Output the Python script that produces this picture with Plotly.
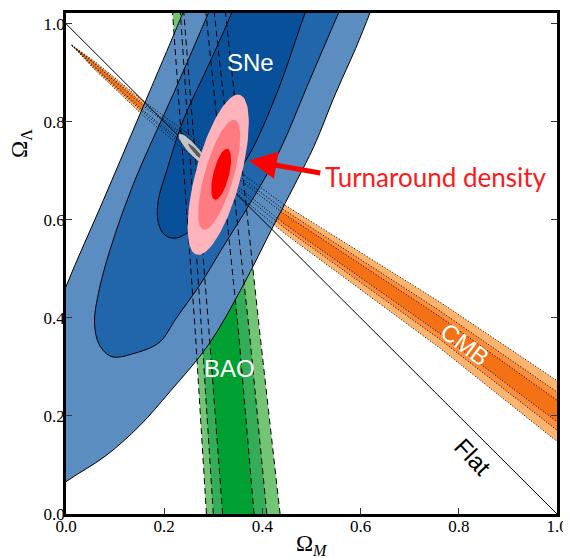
import numpy as np
import plotly.graph_objects as go

# ---------------- data ----------------
# SNe contours: boundary points (Omega_M, Omega_Lambda), outer (3 sigma) -> inner (1 sigma)
sne3_x = [-0.10, 0.0, 0.08, 0.15, 0.212, 0.29, 0.36, 0.42, 0.47, 0.505, 0.55, 0.59, 0.619, 0.645,
          0.45, 0.262, 0.238, 0.212, 0.144, 0.076, 0.0, -0.05, -0.10]
sne3_y = [-0.01, 0.066, 0.118, 0.18, 0.25, 0.345, 0.465, 0.583, 0.68, 0.75, 0.86, 0.95, 1.022, 1.09,
          1.13, 1.08, 1.022, 0.96, 0.80, 0.64, 0.464, 0.33, 0.10]

sne2_x = [0.093, 0.14, 0.19, 0.225, 0.273, 0.32, 0.375, 0.436, 0.49, 0.555, 0.58,
          0.40, 0.31, 0.29, 0.22, 0.14, 0.09, 0.066, 0.058, 0.068, 0.093]
sne2_y = [0.321, 0.328, 0.35, 0.40, 0.468, 0.545, 0.634, 0.743, 0.87, 1.022, 1.08,
          1.13, 1.07, 1.022, 0.86, 0.68, 0.54, 0.45, 0.39, 0.345, 0.321]

sne1_x = [0.208, 0.225, 0.245, 0.266, 0.31, 0.371, 0.43, 0.487, 0.51,
          0.42, 0.35, 0.337, 0.29, 0.239, 0.205, 0.188, 0.187, 0.196, 0.208]
sne1_y = [0.565, 0.563, 0.572, 0.59, 0.645, 0.729, 0.86, 1.022, 1.08,
          1.12, 1.06, 1.022, 0.915, 0.804, 0.70, 0.64, 0.60, 0.575, 0.565]

# BAO band edges (Omega_M) at given Omega_Lambda levels
bao_y = [0.0, 0.376, 1.022]
bao3_left = [0.286, 0.263, 0.217]
bao2_left = [0.300, 0.276, 0.233]
bao1_left = [0.319, 0.291, 0.240]
bao1_right = [0.383, 0.351, 0.285]
bao2_right = [0.409, 0.373, 0.302]
bao3_right = [0.436, 0.394, 0.325]

# CMB band: centre line and half widths
cmb_x = [0.012, 0.056, 0.157, 0.443, 0.762, 1.0]
cmb_center = [0.956, 0.917, 0.828, 0.603, 0.385, 0.21]
cmb_hw3 = [0.0, 0.008, 0.015, 0.029, 0.047, 0.062]
cmb_hw2 = [0.0, 0.005, 0.009, 0.018, 0.029, 0.039]
cmb_hw1 = [0.0, 0.003, 0.005, 0.010, 0.017, 0.022]

# Turnaround density ellipses (outer -> inner)
turn_cx = [0.310, 0.312, 0.316]
turn_cy = [0.692, 0.692, 0.693]
turn_a = [0.169, 0.1165, 0.0536]
turn_b = [0.046, 0.0295, 0.016]
turn_ang = [75, 74, 76]

# combined (grey) region
comb_cx = [0.257, 0.265]
comb_cy = [0.745, 0.738]
comb_a = [0.040, 0.024]
comb_b = [0.010, 0.004]
comb_ang = [-48, -48]

flat_x = [0.0, 1.0]
flat_y = [1.0, 0.0]

x_ticks = [0.0, 0.2, 0.4, 0.6, 0.8, 1.0]
y_ticks = [0.0, 0.2, 0.4, 0.6, 0.8, 1.0]

# ---------------- colours ----------------
SNE_COL = ['#5b8dc0', '#2166ab', '#08509a']
BAO_COL = ['#74c476', '#34ad58', '#00a032']
CMB_COL = ['#fdb46e', '#fb8d3d', '#f47215']
TURN_COL = ['#ffb3ba', '#ff7b82', '#ff0000']
COMB_COL = ['#c4c4c4', '#5a5a5a']

fig = go.Figure()


def add_poly(x, y, fill=None, lc='black', lw=0, dash='solid', shape='linear'):
    fig.add_trace(go.Scatter(
        x=x, y=y, mode='lines',
        fill='toself' if fill else 'none',
        fillcolor=fill if fill else None,
        line=dict(color=lc, width=lw, dash=dash, shape=shape),
        hoverinfo='skip', showlegend=False))


def ellipse(cx, cy, a, b, ang, n=120):
    t = np.linspace(0, 2 * np.pi, n)
    th = np.deg2rad(ang)
    x = cx + a * np.cos(t) * np.cos(th) - b * np.sin(t) * np.sin(th)
    y = cy + a * np.cos(t) * np.sin(th) + b * np.sin(t) * np.cos(th)
    return x, y


bao_levels = [(bao3_left, bao3_right), (bao2_left, bao2_right), (bao1_left, bao1_right)]
cmb_levels = [cmb_hw3, cmb_hw2, cmb_hw1]


def bao_poly(left, right):
    return list(left) + list(right[::-1]) + [left[0]], list(bao_y) + list(bao_y[::-1]) + [bao_y[0]]


def cmb_edges(hw):
    up = [c + h for c, h in zip(cmb_center, hw)]
    lo = [c - h for c, h in zip(cmb_center, hw)]
    return up, lo


# fills of BAO and CMB (beneath SNe)
for (l, r), col in zip(bao_levels, BAO_COL):
    px, py = bao_poly(l, r)
    add_poly(px, py, fill=col)
for hw, col in zip(cmb_levels, CMB_COL):
    up, lo = cmb_edges(hw)
    add_poly(list(cmb_x) + list(cmb_x[::-1]), up + lo[::-1], fill=col)

# SNe
for (sx, sy), col in zip([(sne3_x, sne3_y), (sne2_x, sne2_y), (sne1_x, sne1_y)], SNE_COL):
    add_poly(sx, sy, fill=col, lc='black', lw=1, shape='spline')

# BAO dashed outlines
for l, r in bao_levels:
    add_poly(l, bao_y, lc='black', lw=1, dash='6px,4px')
    add_poly(r, bao_y, lc='black', lw=1, dash='6px,4px')

# CMB dotted outlines
for hw in cmb_levels:
    up, lo = cmb_edges(hw)
    add_poly(cmb_x, up, lc='black', lw=1, dash='1px,2px')
    add_poly(cmb_x, lo, lc='black', lw=1, dash='1px,2px')

# flat line
add_poly(flat_x, flat_y, lc='black', lw=1)

# combined grey region
for i, col in enumerate(COMB_COL):
    ex, ey = ellipse(comb_cx[i], comb_cy[i], comb_a[i], comb_b[i], comb_ang[i])
    add_poly(ex, ey, fill=col)

# turnaround ellipses
for i, col in enumerate(TURN_COL):
    ex, ey = ellipse(turn_cx[i], turn_cy[i], turn_a[i], turn_b[i], turn_ang[i])
    add_poly(ex, ey, fill=col)

# right-side ticks axis dummy trace
fig.add_trace(go.Scatter(x=[None], y=[None], yaxis='y2', showlegend=False, hoverinfo='skip'))

SANS = 'Liberation Sans, Arial, sans-serif'
annotations = [
    dict(x=0.373, y=0.721, ax=0.521, ay=0.695, axref='x', ayref='y', xref='x', yref='y',
         text='', showarrow=True, arrowcolor='#ff0000', arrowwidth=5, arrowhead=2, arrowsize=1.1,
         standoff=0),
    dict(x=0.523, y=0.688, xref='x', yref='y', text='Turnaround density', showarrow=False,
         xanchor='left', yanchor='middle', font=dict(family='Lato, sans-serif', size=26, color='#ff1a1a')),
    dict(x=0.375, y=0.922, xref='x', yref='y', text='SNe', showarrow=False,
         font=dict(family=SANS, size=24, color='white')),
    dict(x=0.334, y=0.297, xref='x', yref='y', text='BAO', showarrow=False,
         font=dict(family=SANS, size=24, color='white')),
    dict(x=0.8126, y=0.345, xref='x', yref='y', text='CMB', showarrow=False, textangle=37,
         font=dict(family=SANS, size=24, color='white')),
    dict(x=0.828, y=0.118, xref='x', yref='y', text='Flat', showarrow=False, textangle=47,
         font=dict(family=SANS, size=24, color='black')),
    dict(x=0.5, y=-0.062, xref='paper', yref='paper', text='Ω<sub><i>M</i></sub>', showarrow=False,
         xanchor='center', yanchor='middle',
         font=dict(family='Liberation Serif, serif', size=23, color='black')),
    dict(x=-0.0917, y=0.757, xref='paper', yref='y', text='Ω<sub>Λ</sub>', showarrow=False,
         textangle=-90, xanchor='center', yanchor='middle',
         font=dict(family='Liberation Serif, serif', size=23, color='black')),
]

tickfont = dict(family='Liberation Serif, serif', size=17, color='black')
# page body has an 8 px margin, so the figure is 8 px smaller and margins are shifted
fig.update_layout(
    width=563, height=550,
    margin=dict(l=58, r=14, t=5, b=44, autoexpand=False),
    paper_bgcolor='white', plot_bgcolor='white',
    showlegend=False,
    annotations=annotations,
    xaxis=dict(range=[0, 1], tickvals=x_ticks, tickformat='.1f', ticks='inside', ticklen=6,
               tickwidth=1, tickcolor='#333', showline=True, linewidth=2.5, linecolor='black',
               mirror=True, showgrid=False, zeroline=False, tickfont=tickfont,
               ticklabelstandoff=-5, automargin=False),
    yaxis=dict(range=[0, 1.022], tickvals=y_ticks, tickformat='.1f', ticks='inside', ticklen=6,
               tickwidth=1, tickcolor='#333', showline=True, linewidth=2.5, linecolor='black',
               mirror=True, showgrid=False, zeroline=False, tickfont=tickfont,
               ticklabelstandoff=-5, automargin=False),
    yaxis2=dict(range=[0, 1.022], tickvals=y_ticks, ticks='inside', ticklen=6, tickwidth=1,
                tickcolor='#333', overlaying='y', side='right', showticklabels=False,
                showgrid=False, zeroline=False, showline=False, automargin=False),
)

fig.write_html('out.html')
